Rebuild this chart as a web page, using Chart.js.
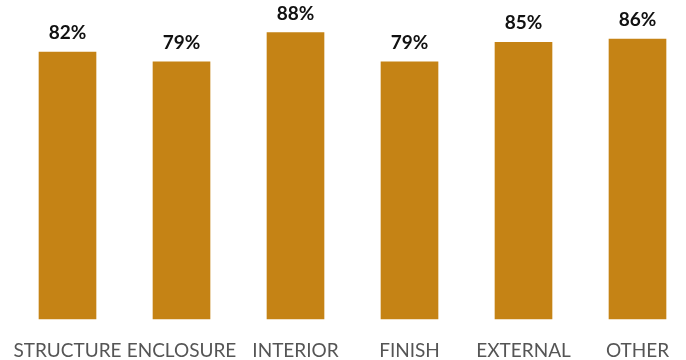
<!DOCTYPE html>
<html>
<head>
<meta charset="utf-8">
<style>
  html, body { margin: 0; padding: 0; background: #fff; }
  #wrap { width: 686px; height: 360px; }
</style>
<script src="https://cdn.jsdelivr.net/npm/chart.js@4"></script>
</head>
<body>
<div id="wrap"><canvas id="chart" width="686" height="360"></canvas></div>
<script>
// chart data
const categories = ['STRUCTURE', 'ENCLOSURE', 'INTERIOR', 'FINISH', 'EXTERNAL', 'OTHER'];
const percentValues = [82, 79, 88, 79, 85, 86];

const barColor = '#C58315';

// draws the "82%" labels above each bar
const valueLabels = {
    id: 'valueLabels',
    afterDatasetsDraw(chart) {
        const ctx = chart.ctx;
        const meta = chart.getDatasetMeta(0);
        ctx.save();
        ctx.font = 'bold 19px Lato';
        ctx.fillStyle = '#111';
        ctx.textAlign = 'center';
        ctx.textBaseline = 'alphabetic';
        meta.data.forEach((bar, i) => {
            ctx.fillText(percentValues[i] + '%', bar.x, bar.y - 13);
        });
        ctx.restore();
    }
};

const ctx = document.getElementById('chart').getContext('2d');
new Chart(ctx, {
    type: 'bar',
    data: {
        labels: categories,
        datasets: [{
            data: percentValues,
            backgroundColor: barColor,
            barThickness: 57,
            clip: false
        }]
    },
    options: {
        responsive: false,
        animation: false,
        layout: {
            padding: { left: 67.5, right: 48.5, top: 0, bottom: 0 }
        },
        plugins: {
            legend: { display: false },
            tooltip: { enabled: false }
        },
        scales: {
            x: {
                offset: false,
                grid: { display: false, drawTicks: false },
                border: { display: false },
                ticks: {
                    color: '#555',
                    font: { family: 'Lato', size: 19 },
                    padding: 20,
                    maxRotation: 0,
                    minRotation: 0,
                    autoSkip: false
                },
                afterFit(scale) {
                    scale.height = 41;
                    scale.paddingLeft = 0;
                    scale.paddingRight = 0;
                }
            },
            y: {
                display: false,
                min: 0,
                max: 98
            }
        }
    },
    plugins: [valueLabels]
});
</script>
</body>
</html>
